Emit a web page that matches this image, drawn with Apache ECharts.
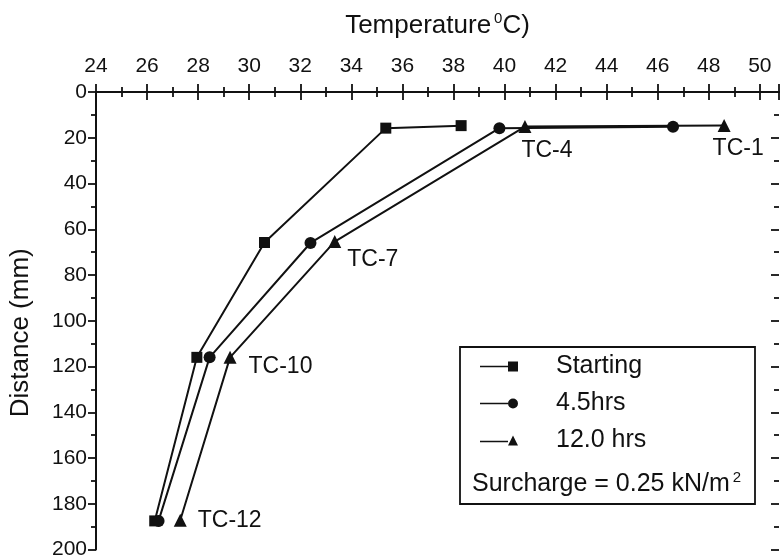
<!DOCTYPE html>
<html lang="en">
  <head>
    <meta charset="UTF-8" />
    <title>Temperature profile</title>
    <script src="https://cdn.jsdelivr.net/npm/echarts@6.0.0/dist/echarts.min.js"></script>
  </head>
  <body style="margin: 0">
    <div id="main" style="width: 781px; height: 560px"></div>

    <script>
      // thermocouple names, top to bottom
      var sensors = ["TC-1", "TC-4", "TC-7", "TC-10", "TC-12"]

      // temperature (deg C) and depth (mm) for each reading
      var tempStart = [38.3, 35.35, 30.6, 27.95, 26.3]
      var depthStart = [14.7, 15.8, 65.8, 116, 187.5]
      var temp45 = [46.6, 39.8, 32.4, 28.45, 26.45]
      var depth45 = [15.2, 15.8, 66, 116, 187.5]
      var temp12 = [48.6, 40.8, 33.35, 29.25, 27.3]
      var depth12 = [14.6, 15.1, 65.4, 116, 187.2]

      var xTicks = [24, 26, 28, 30, 32, 34, 36, 38, 40, 42, 44, 46, 48, 50]
      var yTicks = [0, 20, 40, 60, 80, 100, 120, 140, 160, 180, 200]

      var font = "Liberation Sans"
      var ink = "#111"
      var mCharts = echarts.init(document.getElementById("main"))

      function pairs(t, d) {
        var arr = []
        for (let i = 0; i < t.length; i++) {
          arr.push([t[i], d[i]])
        }
        return arr
      }

      // where the TC-n text sits next to each triangle
      var labelShift = {
        "TC-1": [-18, 23],
        "TC-4": [-10, 24],
        "TC-7": [6, 18],
        "TC-10": [12, 9],
        "TC-12": [11, 0],
      }
      var data12 = pairs(temp12, depth12).map(function (p, i) {
        return {
          value: p,
          label: {
            show: true,
            position: "right",
            distance: 0,
            offset: labelShift[sensors[i]],
            formatter: sensors[i],
            color: ink,
            fontSize: 23,
            fontFamily: font,
          },
        }
      })

      var tickStyle = { color: ink, width: 1.8 }

      function xAxis(pos, labels) {
        return {
          type: "value",
          position: pos,
          min: xTicks[0],
          max: 50.75,
          interval: 2,
          name: labels ? "Temperature{sup|0}C)" : "",
          nameLocation: "middle",
          nameGap: 52,
          nameTextStyle: {
            color: ink,
            fontSize: 26,
            fontFamily: font,
            rich: {
              sup: { fontSize: 15, fontFamily: font, color: ink, padding: [0, 0, 14, 3] },
            },
          },
          axisLine: { lineStyle: { color: ink, width: 2 } },
          axisTick: { inside: true, length: 8, lineStyle: tickStyle },
          minorTick: { show: true, splitNumber: 2, length: 5, lineStyle: tickStyle },
          splitLine: { show: false },
          axisLabel: {
            show: labels,
            showMaxLabel: false,
            margin: 15,
            color: ink,
            fontSize: 21,
            fontFamily: font,
            formatter: function (v) {
              return xTicks.indexOf(v) >= 0 ? v : ""
            },
          },
        }
      }

      function yAxis(pos, labels) {
        return {
          type: "value",
          position: pos,
          inverse: true,
          min: yTicks[0],
          max: yTicks[yTicks.length - 1],
          interval: 20,
          name: labels ? "Distance (mm)" : "",
          nameLocation: "middle",
          nameGap: 62,
          nameTextStyle: { color: ink, fontSize: 26, fontFamily: font, padding: [0, 24, 0, 0] },
          axisLine: { show: labels, lineStyle: { color: ink, width: 2 } },
          axisTick: { inside: !labels, length: 8, lineStyle: tickStyle },
          minorTick: { show: true, splitNumber: 2, length: 5, lineStyle: tickStyle },
          splitLine: { show: false },
          axisLabel: { show: labels, margin: 9, color: ink, fontSize: 21, fontFamily: font },
        }
      }

      function line(name, symbol, size, data) {
        return {
          name: name,
          type: "line",
          xAxisIndex: 0,
          yAxisIndex: 0,
          data: data,
          symbol: symbol,
          symbolSize: size,
          lineStyle: { color: ink, width: 2 },
          itemStyle: { color: ink },
          animation: false,
        }
      }

      var option = {
        backgroundColor: "#fff",
        grid: { left: 95, right: 2, top: 92, bottom: 10 },
        xAxis: [xAxis("top", true), xAxis("bottom", false)],
        yAxis: [yAxis("left", true), yAxis("right", false)],
        legend: {
          orient: "vertical",
          left: 475,
          top: 349,
          itemWidth: 38,
          itemHeight: 10,
          itemGap: 12,
          textStyle: { color: ink, fontSize: 25, fontFamily: font, padding: [0, 0, 0, 33] },
          data: [
            { name: "Starting", icon: "path://M0,4.2H28V5.8H0Z M28,0H38V10H28Z" },
            { name: "4.5hrs", icon: "path://M0,4.2H28V5.8H0Z M28,5A5,5 0 1,1 38,5A5,5 0 1,1 28,5Z" },
            { name: "12.0 hrs", icon: "path://M0,5.2H28V6.8H0Z M33,0L38,10L28,10Z" },
          ],
        },
        graphic: [
          {
            type: "rect",
            shape: { x: 460, y: 347, width: 295, height: 157 },
            style: { fill: "none", stroke: ink, lineWidth: 1.8 },
          },
          {
            type: "text",
            x: 472,
            y: 470,
            style: {
              text: "Surcharge = 0.25 kN/m{sup|2}",
              fill: ink,
              fontSize: 25,
              fontFamily: font,
              rich: { sup: { fontSize: 15, fontFamily: font, fill: ink, padding: [0, 0, 14, 3] } },
            },
          },
        ],
        series: [
          line("Starting", "rect", 11, pairs(tempStart, depthStart)),
          line("4.5hrs", "circle", 12, pairs(temp45, depth45)),
          line("12.0 hrs", "triangle", 13, data12),
        ],
      }

      mCharts.setOption(option)
    </script>
  </body>
</html>
